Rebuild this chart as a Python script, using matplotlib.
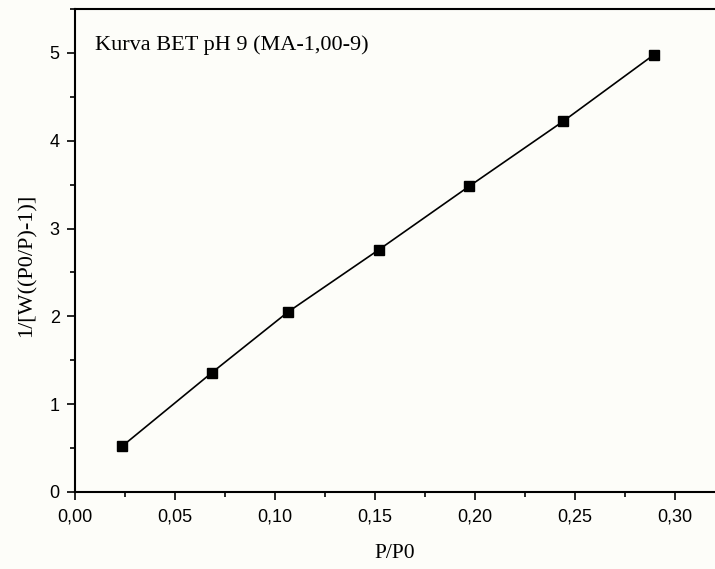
import matplotlib
matplotlib.use("Agg")
import matplotlib.pyplot as plt
from matplotlib.ticker import MultipleLocator, FuncFormatter

# Data
p_p0 = [0.0235, 0.0685, 0.1065, 0.152, 0.197, 0.244, 0.2895]
bet_y = [0.52, 1.36, 2.05, 2.76, 3.48, 4.22, 4.98]
annotation = "Kurva BET pH 9 (MA-1,00-9)"
x_label = "P/P0"
y_label = "1/[W((P0/P)-1)]"

bg = "#fdfdf9"
fig = plt.figure(figsize=(7.15, 5.69), dpi=100, facecolor=bg)
ax = fig.add_axes([75/715, 77/569, 1 - 75/715, (492 - 9)/569])
ax.set_facecolor(bg)

ax.plot(p_p0, bet_y, color="black", lw=1.2, marker="s", ms=7.2,
        markerfacecolor="black", markeredgecolor="black")

ax.set_xlim(0, 0.32)
ax.set_ylim(0, 5.5)
ax.xaxis.set_major_locator(MultipleLocator(0.05))
ax.xaxis.set_minor_locator(MultipleLocator(0.025))
ax.yaxis.set_major_locator(MultipleLocator(1))
ax.yaxis.set_minor_locator(MultipleLocator(0.5))
ax.xaxis.set_major_formatter(FuncFormatter(lambda v, p: f"{v:.2f}".replace(".", ",")))
ax.yaxis.set_major_formatter(FuncFormatter(lambda v, p: f"{v:.0f}"))

for s in ["left", "bottom", "top"]:
    ax.spines[s].set_linewidth(1.5)
ax.spines["right"].set_visible(False)

ax.tick_params(which="major", direction="out", length=6, width=1.2,
               labelsize=13, pad=5)
ax.tick_params(which="minor", direction="out", length=3.5, width=1.2)
ax.tick_params(axis="x", which="major", pad=6)
for lab in ax.get_xticklabels() + ax.get_yticklabels():
    lab.set_fontfamily("Liberation Sans")

ax.set_xlabel(x_label, fontsize=15.5, family="Liberation Serif")
ax.set_ylabel(y_label, fontsize=16, family="Liberation Serif")
ax.xaxis.set_label_coords(0.5, -0.108)
ax.yaxis.set_label_coords(-0.06, 0.47)

ax.text(0.031, 0.925, annotation, transform=ax.transAxes, fontsize=16,
        family="Liberation Serif", va="center", ha="left")

fig.savefig("out.png", dpi=100, facecolor=bg)
